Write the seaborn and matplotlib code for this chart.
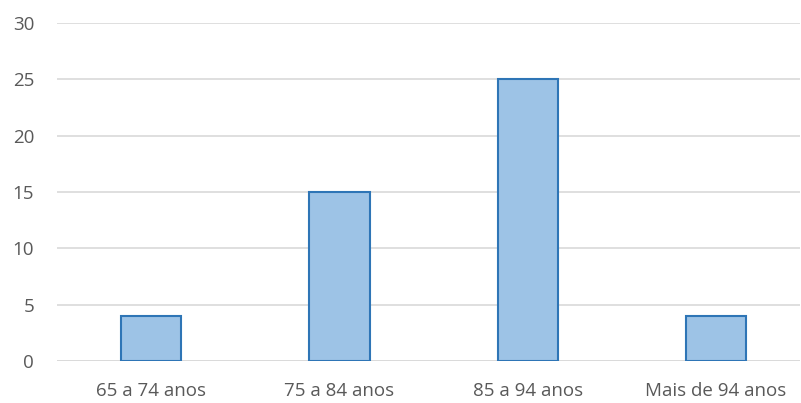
import matplotlib
matplotlib.use("Agg")
import matplotlib.pyplot as plt
import seaborn as sns
import pandas as pd

categories = ["65 a 74 anos", "75 a 84 anos", "85 a 94 anos", "Mais de 94 anos"]
values = [4, 15, 25, 4]
y_ticks = [0, 5, 10, 15, 20, 25, 30]

sns.set_theme(style="white")
plt.rcParams["font.family"] = ["Open Sans", "DejaVu Sans"]

df = pd.DataFrame({"faixa": categories, "n": values})

fig = plt.figure(figsize=(8.01, 4.03), dpi=100)
ax = fig.add_axes([57 / 801, 1 - 361 / 403, 743 / 801, 338 / 403])

sns.barplot(data=df, x="faixa", y="n", ax=ax, width=0.32,
            color="#9DC3E6", edgecolor="#2E75B6", linewidth=1.5,
            saturation=1, zorder=3)

ax.set_ylim(0, 30)
ax.set_yticks(y_ticks)
ax.set_xlim(-0.5, 3.446)
ax.yaxis.grid(True, color="#D9D9D9", linewidth=1.2, zorder=0)
ax.set_axisbelow(True)
for s in ax.spines.values():
    s.set_visible(False)
ax.axhline(0, color="#D9D9D9", linewidth=1.2, zorder=1)
ax.set_xlabel("")
ax.set_ylabel("")
ax.tick_params(axis="both", length=0, labelsize=13.5, colors="#595959")
ax.tick_params(axis="y", pad=16.5)
ax.tick_params(axis="x", pad=15)

fig.savefig("out.png", dpi=100)
